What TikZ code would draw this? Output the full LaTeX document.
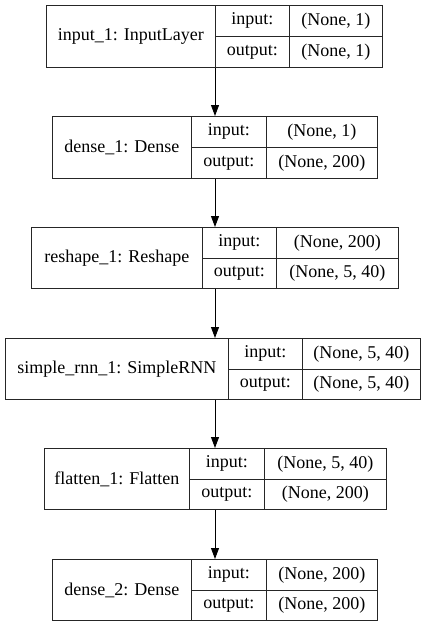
\documentclass[tikz,border=0pt]{standalone}
\usepackage{fontspec}
\setmainfont{Liberation Serif}
\usetikzlibrary{arrows.meta}
\newcommand\kerasLayer[9]{%
  % #1 name, #2 x0, #3 x1, #4 x2, #5 x3, #6 y0, #7 y1, #8 title, #9 input shape
  \node[cell, minimum width={(#3-#2)*1pt}, minimum height={(#7-#6)*1pt}] (#1) at (#2,#6) {#8};
  \node[cell, minimum width={(#4-#3)*1pt}, minimum height={(#7-#6)*0.5pt}] (#1-il) at (#3,#6) {input:};
  \node[cell, minimum width={(#4-#3)*1pt}, minimum height={(#7-#6)*0.5pt}] (#1-ol) at (#3,{(#6+#7)/2}) {output:};
  \node[cell, minimum width={(#5-#4)*1pt}, minimum height={(#7-#6)*0.5pt}] (#1-iv) at (#4,#6) {#9};
}
\newcommand\kerasOut[6]{%
  % #1 name, #2 x2, #3 x3, #4 y0, #5 y1, #6 text
  \node[cell, minimum width={(#3-#2)*1pt}, minimum height={(#5-#4)*0.5pt}] (#1-ov) at (#2,{(#4+#5)/2}) {#6};
}
\begin{document}
\begin{tikzpicture}[x=1pt,y=-1pt,
  cell/.style={draw=black!85, line width=0.9pt, inner sep=0pt, anchor=north west,
    font=\fontsize{18}{20}\selectfont},
  flow/.style={line width=0.9pt, -{Triangle[length=11pt,width=8pt]}}]
\useasboundingbox (0,0) rectangle (429,627);
\coordinate (ax) at (215,0);

\kerasLayer{L1}{46}{215}{289}{382}{5}{67}{input\_1: InputLayer}{(None, 1)}
\kerasOut{L1}{289}{382}{5}{67}{(None, 1)}

\kerasLayer{L2}{52}{191}{266}{377}{116}{178}{dense\_1: Dense}{(None, 1)}
\kerasOut{L2}{266}{377}{116}{178}{(None, 200)}

\kerasLayer{L3}{31}{202}{276}{398}{227}{288}{reshape\_1: Reshape}{(None, 200)}
\kerasOut{L3}{276}{398}{227}{288}{(None, 5, 40)}

\kerasLayer{L4}{5}{228}{302}{420}{338}{399}{simple\_rnn\_1: SimpleRNN}{(None, 5, 40)}
\kerasOut{L4}{302}{420}{338}{399}{(None, 5, 40)}

\kerasLayer{L5}{44}{189}{264}{386}{448}{509}{flatten\_1: Flatten}{(None, 5, 40)}
\kerasOut{L5}{264}{386}{448}{509}{(None, 200)}

\kerasLayer{L6}{52}{191}{266}{377}{559}{620}{dense\_2: Dense}{(None, 200)}
\kerasOut{L6}{266}{377}{559}{620}{(None, 200)}

\draw[flow] (L1.south -| ax) -- (L2.north -| ax);
\draw[flow] (L2.south -| ax) -- (L3.north -| ax);
\draw[flow] (L3.south -| ax) -- (L4.north -| ax);
\draw[flow] (L4.south -| ax) -- (L5.north -| ax);
\draw[flow] (L5.south -| ax) -- (L6.north -| ax);
\end{tikzpicture}
\end{document}
